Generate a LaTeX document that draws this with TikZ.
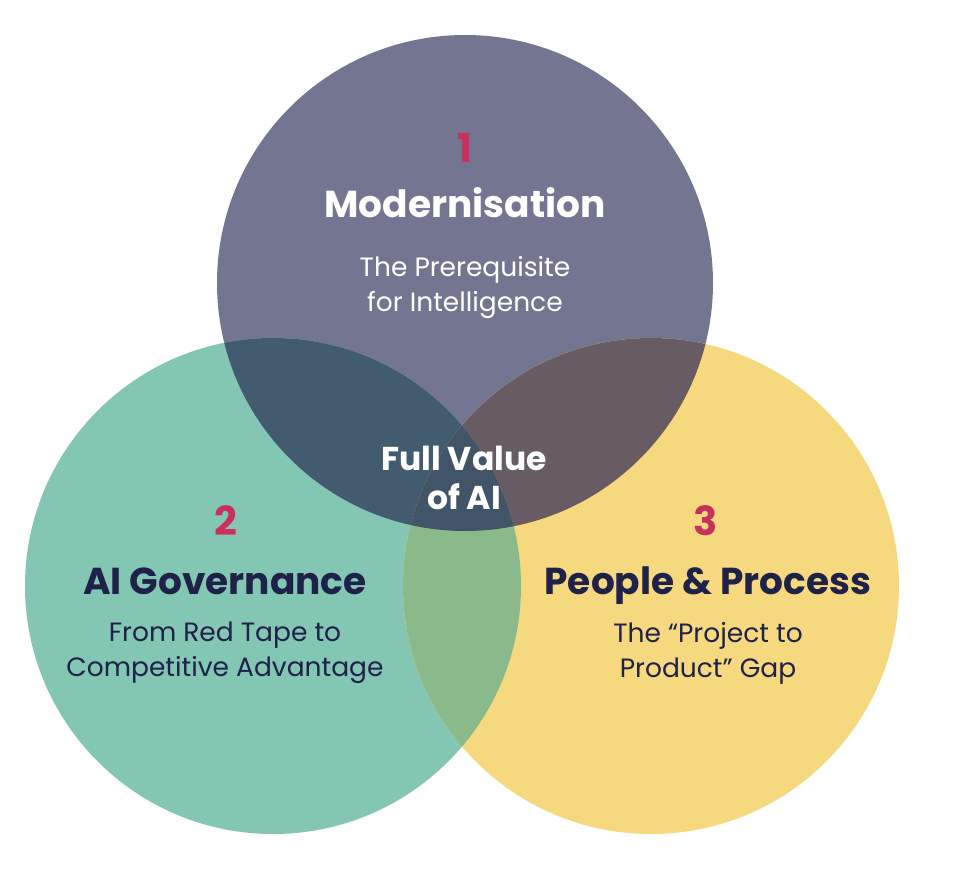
\documentclass[tikz,border=0pt]{standalone}
\usepackage{fontspec}
\setmainfont{Poppins}
\definecolor{topc}{HTML}{747691}
\definecolor{leftc}{HTML}{84C6B4}
\definecolor{rightc}{HTML}{F6D97E}
\definecolor{tlc}{HTML}{435B6E}
\definecolor{trc}{HTML}{675C64}
\definecolor{lrc}{HTML}{8ABA8C}
\definecolor{ctrc}{HTML}{415468}
\definecolor{pinkc}{HTML}{C9305E}
\definecolor{navyc}{HTML}{1E2148}
\tikzset{
  numtxt/.style={font=\bfseries\fontsize{40}{40}\selectfont, text=pinkc, inner sep=0pt},
  titletxt/.style={font=\bfseries\fontsize{37.5}{39}\selectfont, inner sep=0pt, anchor=base},
  subtxt/.style={font=\fontsize{26.5}{35}\selectfont, align=center, inner sep=0pt},
  centertxt/.style={font=\bfseries\fontsize{33}{39}\selectfont, align=center, text=white, inner sep=0pt}
}
\begin{document}
\begin{tikzpicture}[x=1pt,y=-1pt]
\useasboundingbox (0,0) rectangle (964,872);
\coordinate (T) at (465,283);
\coordinate (L) at (273,586);
\coordinate (R) at (651,586);
\def\rr{248pt}
\fill[topc] (T) circle[radius=\rr];
\fill[leftc] (L) circle[radius=\rr];
\fill[rightc] (R) circle[radius=\rr];
\begin{scope}
  \clip (T) circle[radius=\rr];
  \fill[tlc] (L) circle[radius=\rr];
  \fill[trc] (R) circle[radius=\rr];
\end{scope}
\begin{scope}
  \clip (L) circle[radius=\rr];
  \fill[lrc] (R) circle[radius=\rr];
\end{scope}
\begin{scope}
  \clip (T) circle[radius=\rr];
  \clip (L) circle[radius=\rr];
  \fill[ctrc] (R) circle[radius=\rr];
\end{scope}
% top
\node[numtxt] (n1) at (465,148) {1};
\node[titletxt, text=white] (t1) at (465,217) {Modernisation};
\node[subtxt, text=white] (s1) at (465,287) {The Prerequisite\\for Intelligence};
% left
\node[numtxt] (n2) at (226,521) {2};
\node[titletxt, text=navyc] (t2) at (225,594) {AI Governance};
\node[subtxt, text=navyc] (s2) at (225,653) {From Red Tape to\\Competitive Advantage};
% right
\node[numtxt] (n3) at (706,521) {3};
\node[titletxt, text=navyc] (t3) at (708,594) {People \& Process};
\node[subtxt, text=navyc] (s3) at (708,653) {The “Project to\\Product” Gap};
% center
\node[centertxt] (c) at (464,478) {Full Value\\of AI};
\end{tikzpicture}
\end{document}
